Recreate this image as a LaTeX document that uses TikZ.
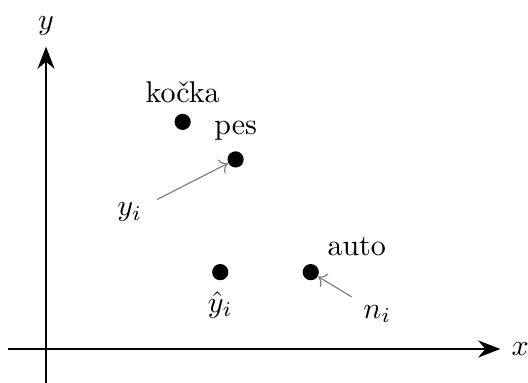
\documentclass[tikz,border=0pt]{standalone}
\usepackage{fontspec}
\usepackage{amsmath}
\usetikzlibrary{positioning, arrows.meta}

\tikzset{
  dot/.style={circle, fill=black, inner sep=0pt, minimum size=5.4pt},
  axis/.style={-{Stealth[length=2.6mm, width=2mm]}, thick},
  pointer/.style={->, gray, thin}
}

\begin{document}
\begin{tikzpicture}
          \useasboundingbox (-0.539,-0.398) rectangle (5.644,4.087);
          % axes
          \coordinate (xs) at (-0.45,0);
          \coordinate (xe) at (5.32,0);
          \coordinate (ys) at (0,-0.40);
          \coordinate (ye) at (0,3.54);
          \draw[axis] (xs) -- (xe) node[right] {$x$};
          \draw[axis] (ys) -- (ye) node[above] {$y$};
          % points
          \node[dot] (kocka) at (1.60,2.66) {};
          \node[dot] (pes) at (2.22,2.22) {};
          \node[dot] (yhat) at (2.04,0.90) {};
          \node[dot] (auto) at (3.10,0.90) {};
          \node[above=0pt of kocka] (kockalbl) {kočka};
          \node[above=0pt of pes] (peslbl) {pes};
          \node[below=0pt of yhat] (yhatlbl) {$\hat{y}_i$};
          \node[above right=0pt of auto] (autolbl) {auto};
          % pointers
          \node (yilbl) at (0.98,1.60) {$y_i$};
          \node (nilbl) at (3.88,0.41) {$n_i$};
          \coordinate (yis) at (1.30,1.75);
          \coordinate (nis) at (3.58,0.61);
          \draw[pointer] (yis) -- (pes);
          \draw[pointer] (nis) -- (auto);
        \end{tikzpicture}
\end{document}
